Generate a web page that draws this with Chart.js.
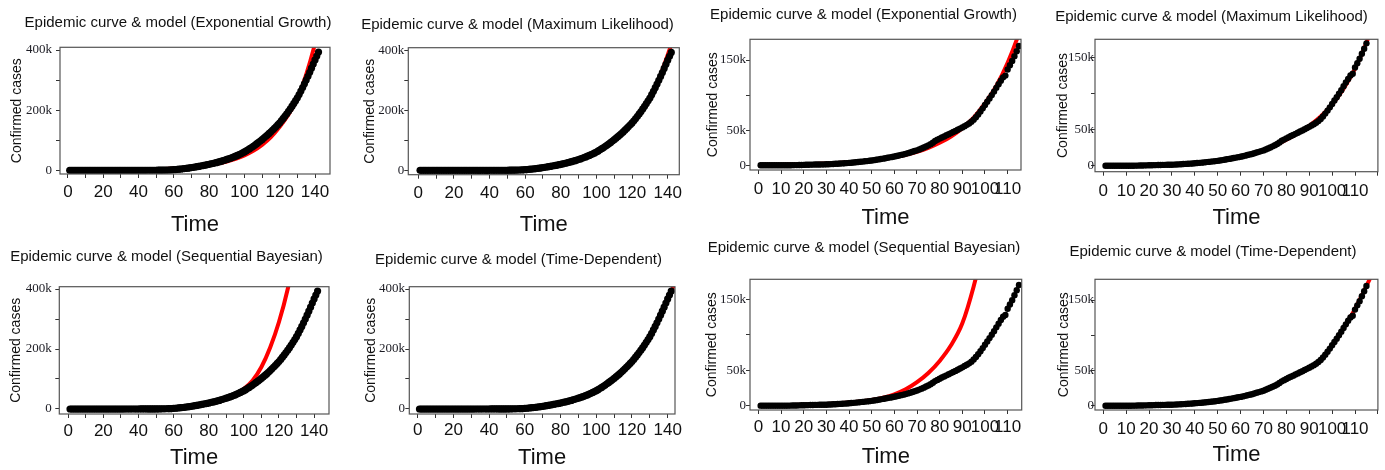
<!DOCTYPE html>
<html>
<head>
<meta charset="utf-8">
<script src="https://cdn.jsdelivr.net/npm/chart.js@4.4.0/dist/chart.umd.min.js"></script>
<style>
  html, body { margin: 0; padding: 0; background: #fff; }
  body { position: relative; width: 1385px; height: 470px; overflow: hidden; }
  canvas { position: absolute; }
</style>
</head>
<body>
<script>
/* ===== DATA (cases in thousands) ===== */

// series 1: 142 days of confirmed cases
const obs1 = [
  0.001, 0.001, 0.002, 0.003, 0.003, 0.003, 0.003, 0.003, 0.003, 0.003,
  0.003, 0.003, 0.003, 0.003, 0.003, 0.003, 0.003, 0.003, 0.003, 0.003,
  0.003, 0.003, 0.003, 0.003, 0.003, 0.003, 0.003, 0.003, 0.003, 0.003,
  0.003, 0.003, 0.005, 0.006, 0.028, 0.030, 0.031, 0.034, 0.039, 0.043,
  0.056, 0.062, 0.073, 0.082, 0.102, 0.113, 0.119, 0.142, 0.156, 0.194,
  0.28, 0.34, 0.41, 0.50, 0.62, 0.76, 0.93, 1.13, 1.45, 2.0,
  2.5, 3.0, 3.6, 4.3, 5.0, 5.7, 6.4, 7.2, 8.1, 9.0,
  9.9, 10.9, 11.9, 12.9, 14.0, 15.1, 16.3, 17.5, 18.7, 20.0,
  21.3, 22.6, 24.0, 25.5, 27.0, 28.7, 30.4, 32.2, 34.1, 36.0,
  38.0, 40.1, 42.3, 44.6, 47.0, 49.6, 52.3, 55.1, 58.0, 61.0,
  64.5, 68.1, 71.9, 75.8, 80.0, 84.2, 88.5, 92.9, 97.4, 102.0,
  107.0, 112.0, 117.0, 122.5, 128.0, 133.8, 139.7, 145.7, 151.8, 158.0,
  165.2, 172.6, 180.2, 188.0, 196.0, 204.5, 213.3, 222.3, 231.6, 241.0,
  252.0, 263.5, 275.3, 287.5, 300.0, 312.8, 326.0, 339.5, 353.2, 367.0,
  380.0, 393.0
];

// series 2: 115 days of confirmed cases
const obs2 = [
  0.002, 0.002, 0.002, 0.004, 0.004, 0.005, 0.006, 0.006, 0.016, 0.02,
  0.02, 0.03, 0.05, 0.1, 0.19, 0.25, 0.3, 0.45, 0.5, 0.6,
  0.7, 0.8, 0.9, 1.0, 1.1, 1.15, 1.2, 1.25, 1.3, 1.4,
  1.55, 1.7, 1.9, 2.1, 2.3, 2.5, 2.7, 2.9, 3.1, 3.4,
  3.7, 4.0, 4.3, 4.6, 5.0, 5.3, 5.7, 6.0, 6.4, 6.8,
  7.3, 7.8, 8.4, 8.9, 9.5, 10.1, 10.7, 11.3, 11.9, 12.5,
  13.2, 14.0, 14.8, 15.5, 16.3, 17.3, 18.3, 19.3, 20.3, 21.3,
  22.6, 24.0, 25.4, 26.9, 28.4, 30.1, 32.2, 34.6, 36.3, 38.0,
  39.6, 41.2, 42.7, 44.3, 45.9, 47.5, 49.0, 50.6, 52.3, 54.0,
  55.8, 57.6, 59.6, 62.0, 65.0, 68.5, 72.4, 76.6, 81.1, 85.8,
  90.5, 95.2, 100.0, 105.0, 110.3, 115.5, 120.6, 125.3, 127.8, 136.5,
  142.5, 148.5, 155.5, 162.5, 170.0
];

const days1 = obs1.map((v, i) => i + 1);
const days2 = obs2.map((v, i) => i + 1);

// model curves, sampled every 5 days
const fitDays1 = [1, 5, 10, 15, 20, 25, 30, 35, 40, 45, 50, 55, 60, 65, 70, 75, 80, 85, 90, 95, 100, 105, 110, 115, 120, 125, 130, 135, 140, 145];
const fitExp1 = [0.1, 0.13, 0.18, 0.25, 0.35, 0.5, 0.7, 1.0, 1.4, 2.0, 2.8, 4.0, 5.6, 7.6, 10.1, 13.2, 17.1, 22.4, 29.2, 38.1, 49.8, 65.0, 84.8, 110.7, 145, 186, 238, 318, 421, 550];
const fitMl1 = [0, 0, 0, 0.01, 0.02, 0.04, 0.07, 0.12, 0.2, 0.35, 0.6, 1.0, 1.9, 3.9, 7.5, 12.8, 19.5, 27, 36, 47.5, 62, 81, 103, 129, 159, 197, 243, 303, 385, 470];
const fitSb1 = [0, 0, 0, 0, 0.01, 0.02, 0.05, 0.1, 0.2, 0.35, 0.6, 1.1, 2.0, 4.0, 7.5, 13, 20, 27.5, 37, 49, 67, 95, 140, 205, 290, 400, 545, 740, 1000, 1350];
const fitTd1 = [0, 0, 0, 0, 0.01, 0.02, 0.04, 0.08, 0.15, 0.3, 0.5, 0.9, 2.1, 4.8, 8.8, 13.8, 19.8, 26.8, 35.8, 46.8, 60.8, 79.8, 101.5, 127.5, 157.5, 195.5, 240.5, 299.5, 366, 432];

const fitDays2 = [1, 5, 10, 15, 20, 25, 30, 35, 40, 45, 50, 55, 60, 65, 70, 75, 80, 85, 90, 95, 100, 105, 110, 115, 120];
const fitExp2 = [0.6, 0.7, 0.9, 1.2, 1.5, 2.0, 2.5, 3.2, 4.2, 5.4, 7.0, 9.0, 11.6, 14.9, 19.2, 24.7, 32, 41, 53, 68, 88, 113, 146, 188, 242];
const fitMl2 = [0.1, 0.15, 0.25, 0.4, 0.6, 0.9, 1.4, 2.1, 3.1, 4.5, 6.4, 9.0, 12.3, 16.5, 21.7, 28, 36, 45, 55.5, 68.5, 85, 107, 135, 171, 216];
const fitSb2 = [0.3, 0.4, 0.6, 0.85, 1.2, 1.7, 2.3, 3.2, 4.3, 5.8, 7.9, 11.2, 16, 23, 33, 46, 63, 85, 116, 168, 235, 320, 430, 570, 750];
const fitTd2 = [0.05, 0.1, 0.2, 0.35, 0.6, 1.0, 1.45, 2.3, 3.4, 5.0, 6.8, 9.5, 12.5, 16.3, 21.3, 28.4, 38.0, 45.9, 54, 65, 85.8, 110.3, 137.5, 170, 205];

// ticks
const xTicks1 = [0, 10, 20, 30, 40, 50, 60, 70, 80, 90, 100, 110, 120, 130, 140];
const xLabels1 = ['0', '', '20', '', '40', '', '60', '', '80', '', '100', '', '120', '', '140'];
const xTicks2 = [0, 10, 20, 30, 40, 50, 60, 70, 80, 90, 100, 110, 120];
const xLabels2 = ['0', '10', '20', '30', '40', '50', '60', '70', '80', '90', '100', '110', ''];
const yTicks1 = [0, 100, 200, 300, 400];
const yLabels1 = ['0', '', '200k', '', '400k'];
const yTicks2 = [0, 50, 100, 150];
const yLabels2 = ['0', '50k', '', '150k'];

const TITLE = 'Epidemic curve & model';

/* ===== LAYOUT ===== */

const sets = {
  1: { days: days1, obs: obs1, fitDays: fitDays1, xt: xTicks1, xl: xLabels1, yt: yTicks1, yl: yLabels1, dot: 3.6 },
  2: { days: days2, obs: obs2, fitDays: fitDays2, xt: xTicks2, xl: xLabels2, yt: yTicks2, yl: yLabels2, dot: 3.2 }
};

const panels = [
  { set: 1, fit: fitExp1, name: 'Exponential Growth', left: 0, top: 0, titleX: 178, titleY: 23.3,
    box: [60, 47.3, 330, 174], confX: 16.7, xLabY: 192.7, timeY: 225, yLabR: 52, xr: [-4.5, 148.5], yr: [-12.3, 409] },
  { set: 1, fit: fitMl1, name: 'Maximum Likelihood', left: 345, top: 0, titleX: 517.5, titleY: 25,
    box: [408.3, 47.7, 679.3, 174.7], confX: 370, xLabY: 193.3, timeY: 225, yLabR: 404.3, xr: [-5.6, 146.5], yr: [-14.7, 408.7] },
  { set: 2, fit: fitExp2, name: 'Exponential Growth', left: 690, top: 0, titleX: 863.3, titleY: 15,
    box: [750, 39.3, 1021, 170], confX: 712.7, xLabY: 189.3, timeY: 218.3, yLabR: 746, xr: [-3.7, 115.9], yr: [-6.7, 179.5] },
  { set: 2, fit: fitMl2, name: 'Maximum Likelihood', left: 1035, top: 0, titleX: 1211.7, titleY: 16.7,
    box: [1095, 39.3, 1377.9, 171.7], confX: 1063.3, xLabY: 191, timeY: 218.3, yLabR: 1094, xr: [-3.6, 120], yr: [-8.3, 175.6] },
  { set: 1, fit: fitSb1, name: 'Sequential Bayesian', left: 0, top: 235, titleX: 166.7, titleY: 256.7,
    box: [59.3, 286.7, 330, 414], confX: 16, xLabY: 431.7, timeY: 458.3, yLabR: 51.7, xr: [-5.1, 148.5], yr: [-16.7, 407.7] },
  { set: 1, fit: fitTd1, name: 'Time-Dependent', left: 345, top: 235, titleX: 518.3, titleY: 260,
    box: [409.3, 286.7, 675, 414], confX: 371, xLabY: 430, timeY: 458.3, yLabR: 405, xr: [-4.7, 144.1], yr: [-16.7, 407.7] },
  { set: 2, fit: fitSb2, name: 'Sequential Bayesian', left: 690, top: 235, titleX: 864, titleY: 248.3,
    box: [750, 279.3, 1021.7, 410], confX: 711.7, xLabY: 427.7, timeY: 456.7, yLabR: 746, xr: [-3.7, 116.2], yr: [-6.1, 178] },
  { set: 2, fit: fitTd2, name: 'Time-Dependent', left: 1035, top: 235, titleX: 1213, titleY: 251.7,
    box: [1095, 279.3, 1377.9, 410], confX: 1064.3, xLabY: 429.3, timeY: 455, yLabR: 1094, xr: [-3.6, 120], yr: [-6.1, 179.5] }
];

Chart.defaults.font.family = "'Liberation Sans', Arial, sans-serif";
Chart.defaults.color = '#111';

// R-style frame round the plot region
const boxPlugin = {
  id: 'box',
  afterDatasetsDraw(chart) {
    const { ctx, chartArea: a } = chart;
    ctx.save();
    ctx.strokeStyle = '#555';
    ctx.lineWidth = 1.2;
    ctx.strokeRect(a.left, a.top, a.right - a.left, a.bottom - a.top);
    ctx.restore();
  }
};

function fixedTicks(list) {
  return scale => {
    scale.ticks = list.filter(v => v >= scale.min && v <= scale.max).map(v => ({ value: v }));
  };
}

function makePanel(p) {
  const s = sets[p.set];
  const W = Math.round(2 * (p.titleX - p.left));
  const H = 250;
  const [bl, bt, br, bb] = p.box;

  const cv = document.createElement('canvas');
  cv.width = W;
  cv.height = H;
  cv.style.left = p.left + 'px';
  cv.style.top = p.top + 'px';
  document.body.appendChild(cv);

  const titlePadTop = p.titleY - p.top - 9;
  const titlePadBottom = bt - p.top - titlePadTop - 18;

  new Chart(cv, {
    type: 'line',
    data: {
      datasets: [
        {
          data: s.days.map((d, i) => ({ x: d, y: s.obs[i] })),
          showLine: false,
          pointRadius: s.dot,
          pointBackgroundColor: '#000',
          pointBorderWidth: 0,
          order: 0
        },
        {
          data: s.fitDays.map((d, i) => ({ x: d, y: p.fit[i] })),
          borderColor: '#ff0000',
          borderWidth: 4,
          pointRadius: 0,
          cubicInterpolationMode: 'monotone',
          clip: 0,
          order: 1
        }
      ]
    },
    options: {
      responsive: false,
      animation: false,
      devicePixelRatio: 1,
      layout: { padding: 0 },
      plugins: {
        legend: { display: false },
        tooltip: { enabled: false },
        title: {
          display: true,
          text: TITLE + ' (' + p.name + ')',
          color: '#111',
          font: { size: 15, weight: 'normal', lineHeight: 1.2 },
          padding: { top: titlePadTop, bottom: titlePadBottom }
        }
      },
      scales: {
        x: {
          type: 'linear',
          bounds: 'data',
          min: p.xr[0],
          max: p.xr[1],
          afterBuildTicks: fixedTicks(s.xt),
          afterFit: scale => { scale.height = p.top + H - bb; },
          grid: { drawOnChartArea: false, tickLength: 4, tickColor: '#333' },
          border: { display: false },
          ticks: {
            autoSkip: false,
            maxRotation: 0,
            minRotation: 0,
            padding: p.xLabY - bb - 4 - 10.2,
            color: '#111',
            font: { size: 17 },
            callback: v => s.xl[s.xt.indexOf(v)]
          },
          title: {
            display: true,
            text: 'Time',
            color: '#111',
            font: { size: 22 },
            padding: { top: 0, bottom: p.top + H - p.timeY - 13.2 }
          }
        },
        y: {
          type: 'linear',
          bounds: 'data',
          min: p.yr[0],
          max: p.yr[1],
          afterBuildTicks: fixedTicks(s.yt),
          afterFit: scale => { scale.width = bl - p.left; },
          grid: { drawOnChartArea: false, tickLength: 4, tickColor: '#333' },
          border: { display: false },
          ticks: {
            padding: bl - 4 - p.yLabR,
            color: '#1c1c24',
            font: { family: "'Liberation Serif', 'Times New Roman', serif", size: 13 },
            callback: v => s.yl[s.yt.indexOf(v)]
          },
          title: {
            display: true,
            text: 'Confirmed cases',
            color: '#111',
            font: { size: 14 },
            padding: { top: p.confX - p.left - 8.4, bottom: 0 }
          }
        },
        pad: {
          type: 'linear',
          position: 'right',
          display: true,
          grid: { display: false },
          border: { display: false },
          ticks: { display: false },
          afterFit: scale => { scale.width = p.left + W - br; }
        }
      }
    },
    plugins: [boxPlugin]
  });
}

panels.forEach(makePanel);
</script>
</body>
</html>
